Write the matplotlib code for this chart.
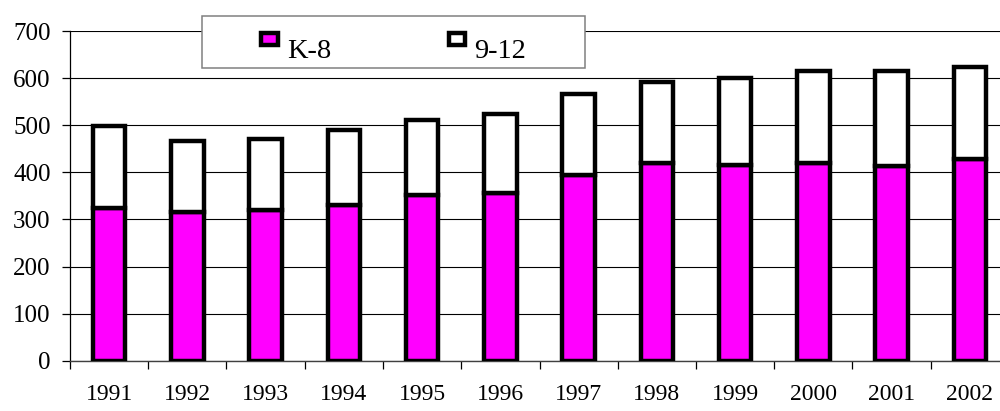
import matplotlib
matplotlib.use("Agg")
import matplotlib.pyplot as plt
from matplotlib.patches import Rectangle
import numpy as np

# enrollment by grade band, thousands
years = ["1991", "1992", "1993", "1994", "1995", "1996",
         "1997", "1998", "1999", "2000", "2001", "2002"]
k8 = [324, 316, 321, 331, 351, 355, 394, 419, 415, 420, 413, 428]
totals = [499, 466, 470, 490, 512, 523, 566, 591, 600, 615, 615, 623]
g912 = [t - k for t, k in zip(totals, k8)]

W, H = 1000, 411
plt.rcParams['font.family'] = ['Liberation Serif', 'DejaVu Serif']

fig = plt.figure(figsize=(W / 100, H / 100), dpi=100)
# plot area runs a little past the right edge of the image
ax = fig.add_axes([70 / W, (H - 360.7) / H, 939 / W, 329.7 / H])

x = np.arange(len(years))
bw = 0.415
ax.bar(x, k8, bw, color='#FF00FF', edgecolor='black', linewidth=3.2, zorder=3)
ax.bar(x, g912, bw, bottom=k8, color='white', edgecolor='black', linewidth=3.2, zorder=3)

ax.set_ylim(0, 700)
ax.set_xlim(-0.5, len(years) - 0.5)
ax.set_yticks(range(0, 701, 100))
ax.yaxis.grid(True, color='black', linewidth=0.8, zorder=0)
ax.axhline(700, color='#808080', linewidth=1.3, zorder=1)

# category boundaries get tick marks, labels sit at the centers
ax.set_xticks(np.arange(-0.5, len(years), 1.0))
ax.set_xticklabels([])
ax.set_xticks(x, minor=True)
ax.set_xticklabels(years, minor=True)
ax.tick_params(axis='x', which='major', direction='out', length=5.5, width=0.9)
ax.tick_params(axis='x', which='minor', length=0, pad=16.5, labelsize=17)
ax.tick_params(axis='y', direction='out', length=5.5, width=0.9, pad=8.5, labelsize=18)

for s in ['top', 'right']:
    ax.spines[s].set_visible(False)
ax.spines['left'].set_linewidth(0.9)
ax.spines['bottom'].set_color('#404040')
ax.spines['bottom'].set_linewidth(1.0)


def px(x0, y0, w, h):
    # pixel box (from top-left) to figure fraction
    return (x0 / W, (H - y0 - h) / H), w / W, h / H


# legend box
xy, w, h = px(202, 15.7, 383, 52)
fig.add_artist(Rectangle(xy, w, h, transform=fig.transFigure, facecolor='white',
                         edgecolor='#808080', linewidth=1.1, zorder=5))
items = [("K-8", '#FF00FF', 261.2, 287), ("9-12", 'white', 448.9, 474)]
for label, col, mx, tx in items:
    xy, w, h = px(mx, 32.9, 16.5, 12)
    fig.add_artist(Rectangle(xy, w, h, transform=fig.transFigure, facecolor=col,
                             edgecolor='black', linewidth=3.2, zorder=6))
    fig.text(tx / W, (H - 57.7) / H, label, fontsize=20.5, va='baseline', ha='left', zorder=7)

fig.savefig("out.png", dpi=100)
